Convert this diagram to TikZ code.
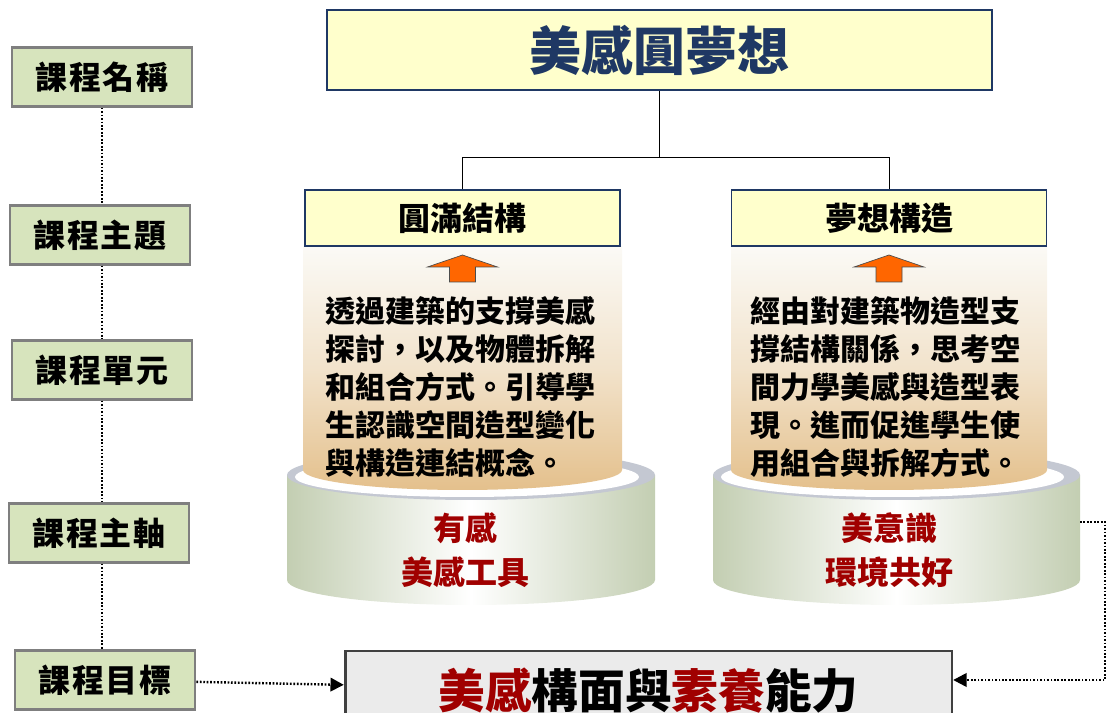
\documentclass[tikz,border=0pt]{standalone}
\usepackage{fontspec}
\setmainfont{Noto Sans CJK TC}
\usetikzlibrary{arrows.meta}
\definecolor{titlenavy}{HTML}{1F3864}
\definecolor{paleyellow}{HTML}{FFFFCC}
\definecolor{labelgreen}{HTML}{D7E4BD}
\definecolor{labelgray}{HTML}{7F7F7F}
\definecolor{darkred}{HTML}{A00000}
\definecolor{sidegreen}{HTML}{C3CEB2}
\definecolor{ringgray}{HTML}{C4C8D2}
\definecolor{beigetop}{HTML}{FBFAF6}
\definecolor{beigelow}{HTML}{E4C08C}
\definecolor{arroworange}{HTML}{FF6600}
\definecolor{goalgray}{HTML}{EBEBEB}
\tikzset{
  label box/.style={draw=labelgray, line width=2pt, fill=labelgreen,
    minimum width=135pt, minimum height=44pt, inner sep=0pt,
    font=\fontsize{24}{24}\selectfont\bfseries\addfontfeature{LetterSpace=6}},
  theme box/.style={draw=titlenavy, line width=1.2pt, fill=paleyellow,
    minimum width=236pt, minimum height=42pt, inner sep=0pt,
    font=\fontsize{24}{24}\selectfont\bfseries},
  unit text/.style={align=left, inner sep=0pt,
    font=\fontsize{22.5}{28.5}\selectfont\bfseries},
  axis text/.style={align=center, inner sep=0pt, text=darkred,
    font=\fontsize{24}{33}\selectfont\bfseries},
  link/.style={line width=1.8pt, dash pattern=on 1.3pt off 1.3pt},
}
\begin{document}
\begin{tikzpicture}[x=0.75pt,y=0.75pt]
\useasboundingbox (0,0) rectangle (1107,713);
% left column
\node[label box] (name) at (102,636) {課程名稱};
\node[label box] (theme) at (100,478) {課程主題};
\node[label box] (unit) at (102,343) {課程單元};
\node[label box] (axis) at (99,180) {課程主軸};
\node[label box] (goal) at (105,33) {課程目標};
\draw[link] (name.south) -- (name.south |- theme.north);
\draw[link] (name.south |- theme.south) -- (name.south |- unit.north);
\draw[link] (unit.south) -- (unit.south |- axis.north);
\draw[link] (unit.south |- axis.south) -- (unit.south |- goal.north);
% pedestals
\foreach \bx/\br/\ix/\ir in {471/184/462.5/159.5, 896.5/183.5/889/158}{
  \path[left color=sidegreen, right color=sidegreen, middle color=white]
    (\bx-\br,238) -- (\bx-\br,133)
    arc[start angle=180, end angle=360, x radius=\br, y radius=25]
    -- (\bx+\br,238) -- cycle;
  \fill[ringgray] (\bx,238) ellipse[x radius=\br, y radius=25];
  \fill[white] (\bx-4,236) ellipse[x radius=\br-12, y radius=20];
  \path[top color=beigetop, bottom color=beigelow, middle color=beigetop!60!beigelow]
    (\ix-\ir,467) -- (\ix-\ir,243)
    arc[start angle=180, end angle=360, x radius=\ir, y radius=20]
    -- (\ix+\ir,467) -- cycle;
  \filldraw[fill=arroworange, draw=black!70, line width=0.5pt]
    (\ix-13,431) -- (\ix-13,446) -- (\ix-35,446) -- (\ix,458)
    -- (\ix+35,446) -- (\ix+13,446) -- (\ix+13,431) -- cycle;
}
\coordinate (rim) at (1080,191);
% top
\node[draw=titlenavy, line width=1.2pt, fill=paleyellow, text=titlenavy,
  minimum width=499pt, minimum height=60pt,
  font=\fontsize{39}{39}\selectfont\bfseries] (dream) at (659.5,663) {美感圓夢想};
\node[theme box] (round) at (462.5,495) {圓滿結構};
\node[theme box] (build) at (889,495) {夢想構造};
\coordinate (fork) at (659.5,556);
\draw[line width=0.6pt] (dream.south) -- (fork);
\draw[line width=0.6pt] (round.north) |- (fork) -| (build.north);
% units
\node[unit text] (left unit) at (460,326) {透過建築的支撐美感\\探討，以及物體拆解\\和組合方式。引導學\\生認識空間造型變化\\與構造連結概念。};
\node[unit text] (right unit) at (885,326) {經由對建築物造型支\\撐結構關係，思考空\\間力學美感與造型表\\現。進而促進學生使\\用組合與拆解方式。};
\node[axis text] (left axis) at (465,163) {有感\\美感工具};
\node[axis text] (right axis) at (889,163) {美意識\\環境共好};
% goal
\node[draw=black!75, line width=2pt, fill=goalgray, minimum width=455pt,
  minimum height=60pt, font=\fontsize{35}{35}\selectfont\bfseries]
  (ability) at (648.5,22) {\textcolor{darkred}{美感}構面與\textcolor{darkred}{素養}能力};
\coordinate (corner) at (1105,191);
\draw[link, -{Triangle[length=10pt,width=10pt]}] (goal) -- (ability);
\draw[link, -{Triangle[length=10pt,width=10pt]}] (rim) -- (corner) |- (ability.east |- goal);
\end{tikzpicture}
\end{document}
